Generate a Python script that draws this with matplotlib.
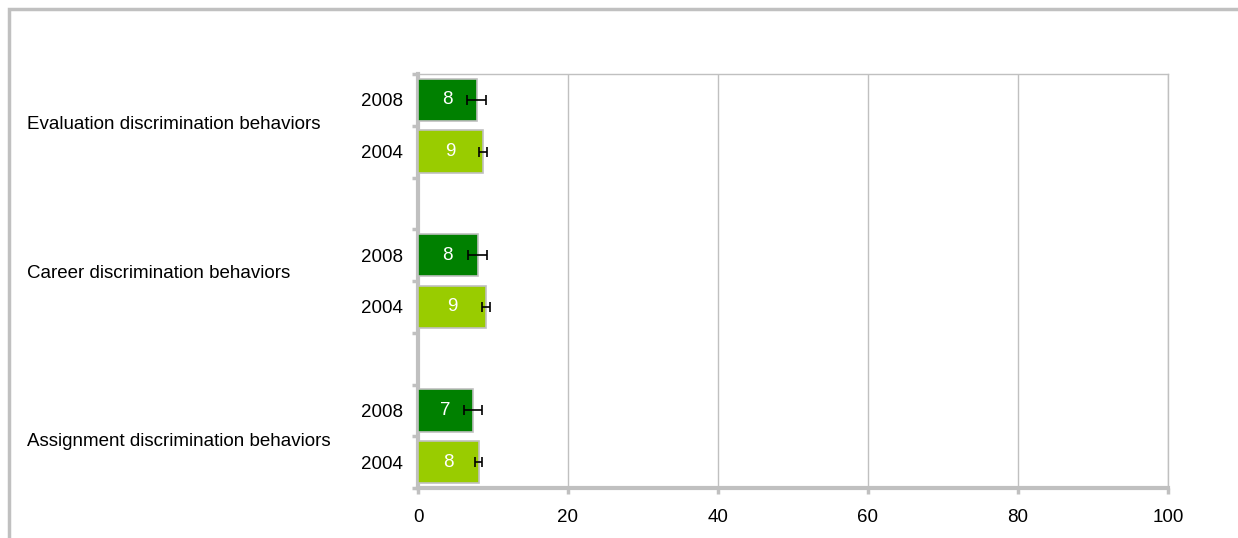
import numpy as np
import matplotlib
matplotlib.use("Agg")
import matplotlib.pyplot as plt
from matplotlib.patches import Rectangle
from matplotlib.transforms import blended_transform_factory

plt.rcParams['font.family'] = ['Liberation Sans', 'DejaVu Sans']

# data
categories = ["Assignment discrimination behaviors",
              "Career discrimination behaviors",
              "Evaluation discrimination behaviors"]
years = ["2004", "2008"]
values_2004 = [8.1, 9.05, 8.7]
values_2008 = [7.3, 7.95, 7.8]
err_2004 = [0.45, 0.55, 0.55]
err_2008 = [1.2, 1.3, 1.3]
labels_2004 = ["8", "9", "9"]
labels_2008 = ["7", "8", "8"]

grey = "#c0c0c0"
dark_green = "#008000"
light_green = "#99cc00"
fs = 13.5

fig = plt.figure(figsize=(12.38, 5.38), dpi=100)
ax = fig.add_axes([418/1238, 1 - 488/538, 750/1238, 414/538])

# outer frame of the chart
fig.patches.append(Rectangle((9/1238, -0.1), 1.2, 1 - 9/538 + 0.1,
                             transform=fig.transFigure, fill=False,
                             edgecolor=grey, linewidth=2.5))

# slot layout: 2004, 2008, gap per category
pos_2004 = [3 * i for i in range(len(categories))]
pos_2008 = [3 * i + 1 for i in range(len(categories))]

ax.barh(pos_2004, values_2004, height=0.82, color=light_green,
        edgecolor=grey, linewidth=1.2, zorder=3)
ax.barh(pos_2008, values_2008, height=0.82, color=dark_green,
        edgecolor=grey, linewidth=1.2, zorder=3)
ax.errorbar(values_2004, pos_2004, xerr=err_2004, fmt="none", ecolor="black",
            elinewidth=1.2, capsize=3.6, capthick=1.2, zorder=4)
ax.errorbar(values_2008, pos_2008, xerr=err_2008, fmt="none", ecolor="black",
            elinewidth=1.2, capsize=3.6, capthick=1.2, zorder=4)

for p, v, t in zip(pos_2004, values_2004, labels_2004):
    ax.text(v / 2, p, t, color="white", ha="center", va="center",
            fontsize=fs, zorder=5)
for p, v, t in zip(pos_2008, values_2008, labels_2008):
    ax.text(v / 2, p, t, color="white", ha="center", va="center",
            fontsize=fs, zorder=5)

ax.set_xlim(0, 100)
ax.set_ylim(-0.5, 7.5)
ax.set_xticks(np.arange(0, 101, 20))
ax.tick_params(axis="x", length=4, width=2.5, color=grey, pad=11,
               labelsize=fs)
ax.xaxis.grid(True, color=grey, linewidth=1)
ax.set_axisbelow(True)

yt = sorted(pos_2004 + pos_2008)
ax.set_yticks(yt)
ax.set_yticklabels([years[0] if p in pos_2004 else years[1] for p in yt])
ax.set_yticks(np.arange(-0.5, 8, 1), minor=True)
ax.tick_params(axis="y", which="major", length=0, pad=11, labelsize=fs)
ax.tick_params(axis="y", which="minor", length=4, width=2.5, color=grey)

for s in ["left", "bottom"]:
    ax.spines[s].set_color(grey)
    ax.spines[s].set_linewidth(3)
for s in ["top", "right"]:
    ax.spines[s].set_color(grey)
    ax.spines[s].set_linewidth(1)

# category labels on the left
cat_y = [0.4, 3.65, 6.52]
trans = blended_transform_factory(fig.transFigure, ax.transData)
for c, y in zip(categories, cat_y):
    ax.text(27/1238, y, c, transform=trans, ha="left", va="center",
            fontsize=fs)

fig.savefig("out.png", dpi=100)
